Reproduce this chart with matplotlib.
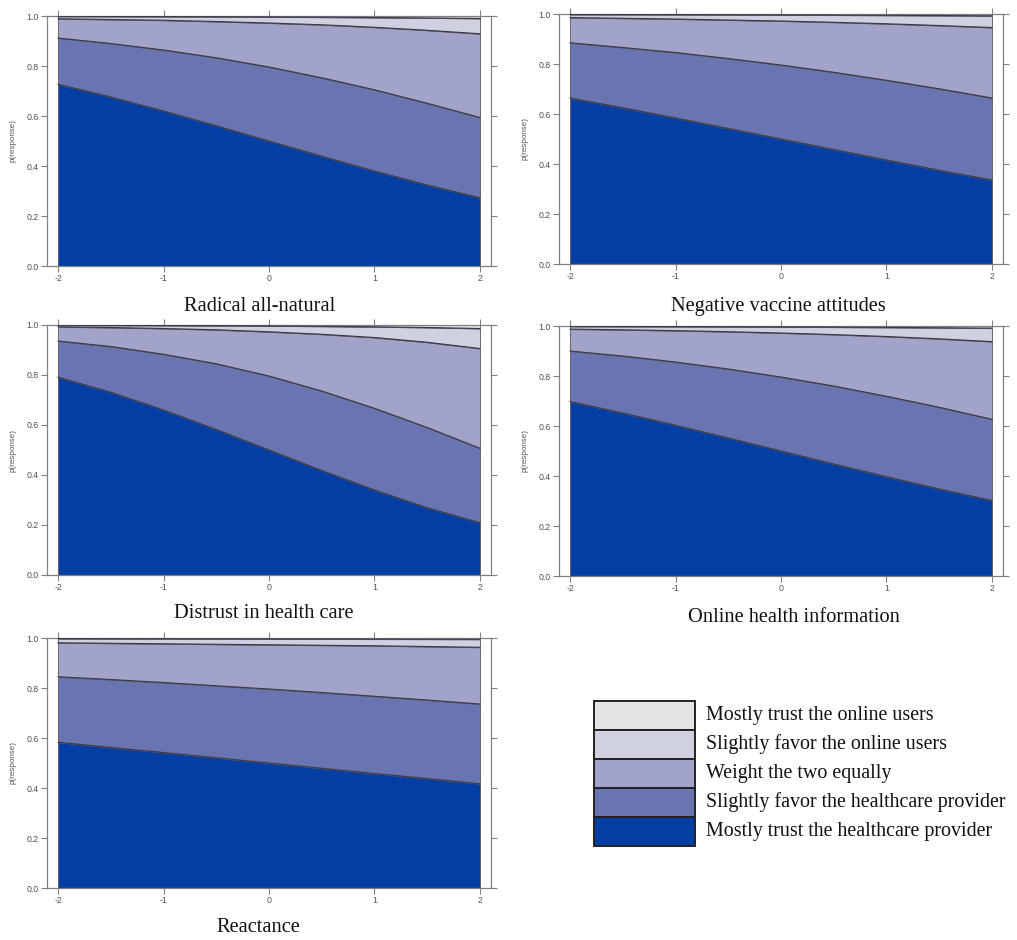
import matplotlib
matplotlib.use("Agg")
import matplotlib.pyplot as plt
from matplotlib.patches import Rectangle
import numpy as np

x = [-2, -1.5, -1, -0.5, 0, 0.5, 1, 1.5, 2]

categories = ["Mostly trust the healthcare provider",
              "Slightly favor the healthcare provider",
              "Weight the two equally",
              "Slightly favor the online users",
              "Mostly trust the online users"]

# cumulative boundaries: b1 < b2 < b3 < b4 < 1
radical_b1 = [0.727, 0.676, 0.620, 0.561, 0.500, 0.439, 0.380, 0.324, 0.273]
radical_b2 = [0.912, 0.890, 0.864, 0.833, 0.796, 0.753, 0.705, 0.651, 0.594]
radical_b3 = [0.989, 0.986, 0.983, 0.978, 0.972, 0.965, 0.955, 0.943, 0.929]
radical_b4 = [0.9986, 0.9982, 0.9977, 0.9971, 0.9963, 0.9953, 0.994, 0.9923, 0.9902]

vaccine_b1 = [0.664, 0.625, 0.584, 0.542, 0.500, 0.458, 0.416, 0.375, 0.336]
vaccine_b2 = [0.885, 0.866, 0.846, 0.822, 0.796, 0.767, 0.735, 0.701, 0.664]
vaccine_b3 = [0.9857, 0.983, 0.980, 0.976, 0.972, 0.967, 0.961, 0.954, 0.946]
vaccine_b4 = [0.9981, 0.9978, 0.9974, 0.9969, 0.9963, 0.9956, 0.9948, 0.9939, 0.9928]

distrust_b1 = [0.791, 0.731, 0.660, 0.582, 0.500, 0.418, 0.340, 0.269, 0.209]
distrust_b2 = [0.936, 0.914, 0.883, 0.845, 0.796, 0.736, 0.667, 0.590, 0.507]
distrust_b3 = [0.9928, 0.990, 0.986, 0.981, 0.973, 0.963, 0.950, 0.931, 0.906]
distrust_b4 = [0.999, 0.9986, 0.9981, 0.9974, 0.9963, 0.9949, 0.9929, 0.9901, 0.986]

online_b1 = [0.698, 0.652, 0.603, 0.552, 0.500, 0.448, 0.397, 0.348, 0.302]
online_b2 = [0.900, 0.880, 0.856, 0.828, 0.796, 0.760, 0.719, 0.675, 0.627]
online_b3 = [0.9877, 0.9849, 0.9815, 0.9773, 0.9721, 0.9658, 0.9581, 0.9488, 0.9376]
online_b4 = [0.9984, 0.998, 0.9976, 0.997, 0.9963, 0.9955, 0.9944, 0.9931, 0.9915]

react_b1 = [0.583, 0.562, 0.542, 0.521, 0.500, 0.479, 0.458, 0.438, 0.417]
react_b2 = [0.845, 0.834, 0.822, 0.809, 0.796, 0.782, 0.767, 0.752, 0.736]
react_b3 = [0.981, 0.979, 0.977, 0.975, 0.973, 0.971, 0.969, 0.966, 0.963]
react_b4 = [0.9974, 0.9971, 0.9969, 0.9966, 0.9963, 0.996, 0.9956, 0.9953, 0.9949]

panel_titles = ["Radical all-natural", "Negative vaccine attitudes",
                "Distrust in health care", "Online health information", "Reactance"]
panel_data = [
    (radical_b1, radical_b2, radical_b3, radical_b4),
    (vaccine_b1, vaccine_b2, vaccine_b3, vaccine_b4),
    (distrust_b1, distrust_b2, distrust_b3, distrust_b4),
    (online_b1, online_b2, online_b3, online_b4),
    (react_b1, react_b2, react_b3, react_b4),
]

colors = ["#023EA3", "#6A74B0", "#A1A4C8", "#CFD1E1", "#E4E4E6"]
x_ticks = [-2, -1, 0, 1, 2]
y_ticks = [0.0, 0.2, 0.4, 0.6, 0.8, 1.0]

W, H = 1017, 940
fig = plt.figure(figsize=(W / 100, H / 100), dpi=100)

# pixel boxes: left, top, right, bottom ; title center x, y
boxes = [
    (47, 16, 491, 266, 260, 306),
    (559, 14, 1003, 264, 778, 306),
    (47, 325, 491, 575, 264, 614),
    (559, 326, 1003, 576, 794, 617),
    (47, 638, 491, 888, 258, 927),
]

edge = "#3a3a48"
for (l, t, r, b, tx, ty), title, data in zip(boxes, panel_titles, panel_data):
    ax = fig.add_axes([l / W, 1 - b / H, (r - l) / W, (b - t) / H])
    lower = [0.0] * len(x)
    uppers = list(data) + [[1.0] * len(x)]
    for k, up in enumerate(uppers):
        ax.fill_between(x, lower, up, facecolor=colors[k], edgecolor="#555560",
                        linewidth=0.6, zorder=2)
        lower = up
    for up in data:
        ax.plot(x, up, color=edge, linewidth=0.8, zorder=3)
    ax.set_xlim(-2.105, 2.105)
    ax.set_ylim(0, 1.0)
    ax.set_xticks(x_ticks)
    ax.set_xticklabels([str(v) for v in x_ticks], family="Liberation Sans")
    ax.set_yticks(y_ticks)
    ax.set_yticklabels([f"{v:.1f}" for v in y_ticks], family="Liberation Sans")
    ax.tick_params(direction="out", length=4, width=0.8, color="#808080",
                   labelsize=6.3, labelcolor="#505050", pad=2,
                   top=True, right=True, labeltop=False, labelright=False)
    for s in ax.spines.values():
        s.set_color("#808080")
        s.set_linewidth(0.9)
    ax.set_ylabel("p(response)", fontsize=5.8, color="#505050", labelpad=7,
                  family="Liberation Sans")
    fig.text(tx / W, 1 - ty / H, title, ha="center", va="center",
             fontsize=14.7, family="Liberation Serif", color="#111111")

# legend
lx0, lx1 = 594, 695
ly0 = 701
rowh = 29
legend_order = list(range(4, -1, -1))
for i, k in enumerate(legend_order):
    y_top = ly0 + i * rowh
    fig.patches.append(Rectangle((lx0 / W, 1 - (y_top + rowh) / H),
                                 (lx1 - lx0) / W, rowh / H,
                                 transform=fig.transFigure,
                                 facecolor=colors[k], edgecolor="#222222",
                                 linewidth=1.4))
    fig.text(706 / W, 1 - (y_top + rowh / 2) / H, categories[k],
             ha="left", va="center", fontsize=14.4, family="Liberation Serif",
             color="#111111")

fig.savefig("out.png", dpi=100)
